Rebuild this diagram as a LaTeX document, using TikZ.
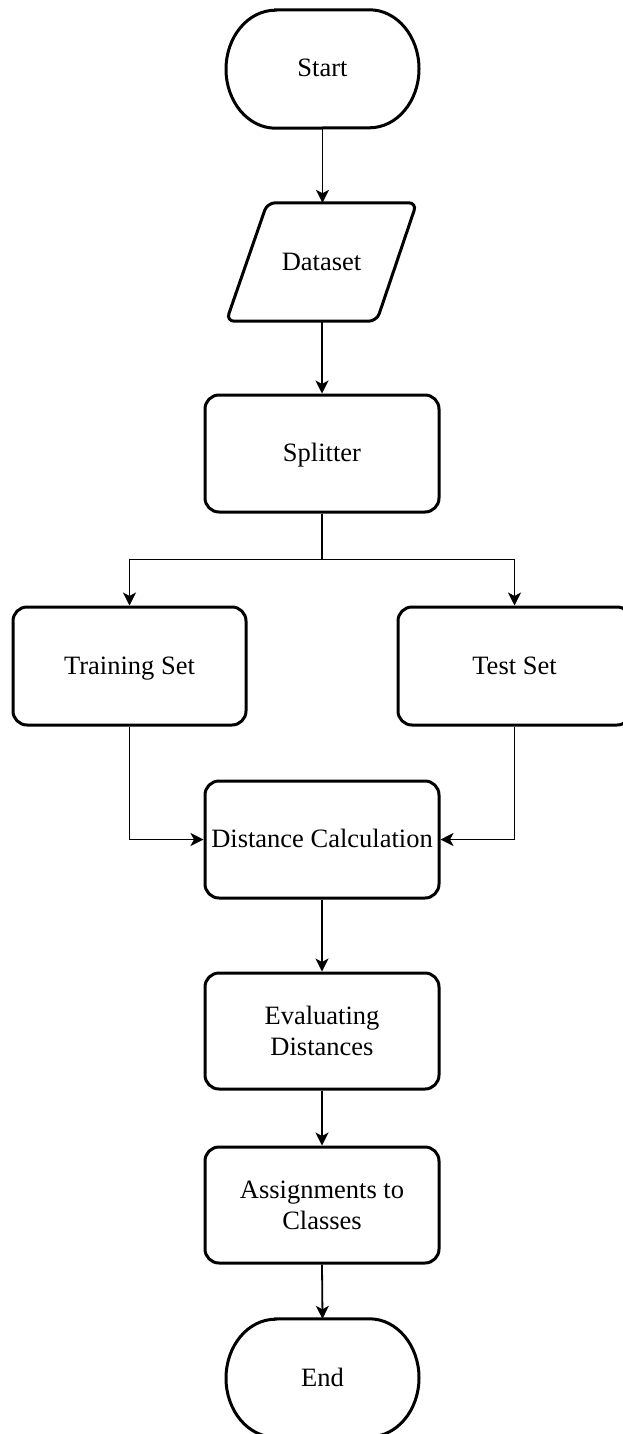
\documentclass[tikz,border=0pt]{standalone}
\usepackage{fontspec}
\setmainfont{Liberation Serif}
\usetikzlibrary{arrows.meta}
\begin{document}
\begin{tikzpicture}[x=1pt,y=-1pt,
  txt/.style={font=\fontsize{26.5}{31}\selectfont, align=center, inner sep=0pt},
  oneline/.style={text height=20pt, text depth=4pt},
  stepbox/.style={txt, draw, line width=3pt, rounded corners=14pt,
    minimum width=234pt, minimum height=117pt},
  term/.style={txt, oneline, minimum width=193pt, minimum height=118pt},
  outline/.style={draw, line width=3pt},
  conn/.style={line width=1.8pt, -{Stealth[length=13pt,width=13pt,inset=3.5pt]}}]
\useasboundingbox (0,0) rectangle (622,1434);

% terminals
\node[term] (start) at (322.5,69) {Start};
\draw[outline] ([xshift=-47pt]start.north) -- ([xshift=47pt]start.north)
  arc[start angle=90,end angle=-90,x radius=49.5pt,y radius=59pt]
  -- ([xshift=-47pt]start.south)
  arc[start angle=270,end angle=90,x radius=49.5pt,y radius=59pt] -- cycle;

\node[term] (end) at (322.5,1378) {End};
\draw[outline] ([xshift=-47pt]end.north) -- ([xshift=47pt]end.north)
  arc[start angle=90,end angle=-90,x radius=49.5pt,y radius=59pt]
  -- ([xshift=-47pt]end.south)
  arc[start angle=270,end angle=90,x radius=49.5pt,y radius=59pt] -- cycle;

% input data
\node[txt, oneline, minimum width=190pt, minimum height=118pt] (data) at (321.5,262) {Dataset};
\draw[outline, rounded corners=8pt] ([xshift=41pt]data.north west) -- (data.north east)
  -- ([xshift=-40pt]data.south east) -- (data.south west) -- cycle;

% process steps
\node[stepbox, oneline] (split) at (322,453.5) {Splitter};
\node[stepbox, oneline, minimum width=233pt, minimum height=118pt] (train) at (129.5,666) {Training Set};
\node[stepbox, oneline, minimum width=233pt, minimum height=118pt] (test) at (514.5,666) {Test Set};
\node[stepbox, oneline] (dist) at (322,839.5) {Distance Calculation};
\node[stepbox, minimum height=116pt] (eval) at (322,1031) {Evaluating\\Distances};
\node[stepbox, minimum height=116pt] (assign) at (322,1205) {Assignments to\\Classes};

% connectors
\draw[conn] (start.south) -- (start.south |- data.north);
\draw[conn] (data.south -| split.north) -- (split.north);
\draw[conn] (split.south) -- ++(0,46) -| (train.north);
\draw[conn] (split.south) -- ++(0,46) -| (test.north);
\draw[conn] (train.south) |- (dist.west);
\draw[conn] (test.south) |- (dist.east);
\draw[conn] (dist.south) -- (eval.north);
\draw[conn] (eval.south) -- (assign.north);
\draw[conn] (assign.south) -- (end.north);
\end{tikzpicture}
\end{document}
